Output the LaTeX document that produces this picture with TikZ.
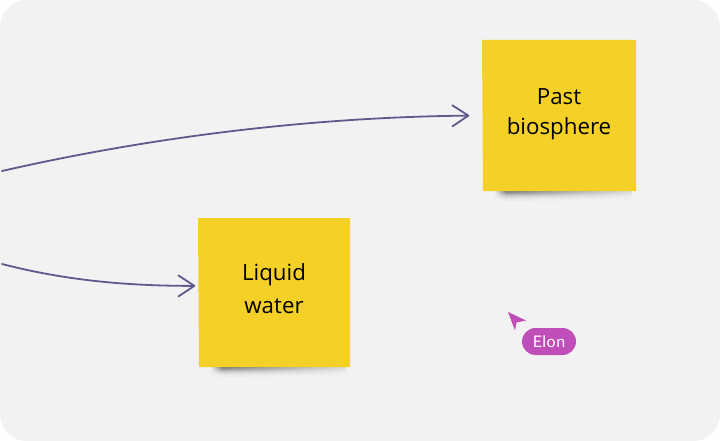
\documentclass[tikz,border=0pt]{standalone}
\usepackage{fontspec}
\setmainfont{Open Sans}
\newfontfamily\cursorfont[LetterSpace=3]{Lato}
\usetikzlibrary{arrows.meta}
\definecolor{bgc}{HTML}{F2F2F2}
\definecolor{notec}{HTML}{F5D128}
\definecolor{linec}{HTML}{5F5A8C}
\definecolor{elonc}{HTML}{BF4EB8}
\definecolor{shc}{HTML}{4A4A50}
\tikzset{
  notebox/.style={fill=notec,draw=none,inner sep=0pt,font=\fontsize{22.3}{30}\selectfont,text=black},
  flow/.style={draw=linec,line width=1.8pt,line cap=round,-{Straight Barb[length=16pt,width=21pt,line width=1.8pt,round]}},
  pill/.style={fill=elonc,rounded corners=13.5pt,inner sep=0pt,text=white,font=\cursorfont\fontsize{16}{18}\selectfont},
}
% #1, #2 the two lines, #3 extra depth (lifts the text by half of it), #4 extra distance between the lines
\newcommand{\twolines}[4]{\raisebox{0pt}[\height][\dimexpr\depth+#3\relax]{\begin{tabular}{@{}c@{}}#1\\[#4]#2\end{tabular}}}
\begin{document}
\begin{tikzpicture}[x=1pt,y=-1pt]
\useasboundingbox (0,0) rectangle (720,441);
\fill[white] (0,0) rectangle (720,441);
\fill[bgc,rounded corners=27pt] (0,0) rectangle (720,441);
% soft side glow
\foreach \w/\c in {8/94.6,5/94.2,2/93.6}{
  \fill[white!\c!black] (636,52) rectangle ++(\w*.5,134);
  \fill[white!\c!black] (350,230) rectangle ++(\w*.5,132);
}
% shadows: each row ramps in on the left and fades away to the right
\foreach \i/\o in {0/72,1/62,2/50,3/39,4/29,5/20,6/13,7/8,8/4}{
  \pgfmathsetmacro{\yA}{191+\i}
  \pgfmathsetmacro{\yB}{367+\i}
  \colorlet{shrow}{shc!\o!bgc}
  \colorlet{shend}{shc!\o!bgc!18!bgc}
  \shade[left color=bgc,right color=shrow] (494,\yA) rectangle (506,\yA+1.05);
  \shade[left color=shrow,right color=shend] (506,\yA) rectangle (632,\yA+1.05);
  \shade[left color=bgc,right color=shrow] (210,\yB) rectangle (222,\yB+1.05);
  \shade[left color=shrow,right color=shend] (222,\yB) rectangle (346,\yB+1.05);
}
% notes
\fill[notec] (482,40) -- (636,40) -- (636,191) -- (483,191) -- cycle;
\node[notebox,minimum width=153pt,minimum height=151pt] (past) at (559,115.5) {\twolines{Past}{biosphere}{3pt}{0pt}};
\fill[notec] (198,218) -- (350,218) -- (350,367) -- (199,367) -- cycle;
\node[notebox,minimum width=151pt,minimum height=149pt] (water) at (274,292.5) {\twolines{Liquid}{water}{4pt}{3pt}};
% connectors
\coordinate (s1) at (2,171);
\coordinate (s2) at (2,264);
\draw[flow,shorten >=13pt] (s1) .. controls (160,135) and (320,117) .. (past.west);
\draw[flow,shorten >=3pt] (s2) .. controls (60,279) and (120,286) .. (water.175);
% cursor
\fill[elonc] (508,312) -- (526,320.5) -- (516.5,322.5) -- (515,330.5) -- cycle;
\node[pill,minimum width=54pt,minimum height=27pt] (elon) at (549,341.5) {Elon};
\end{tikzpicture}
\end{document}
